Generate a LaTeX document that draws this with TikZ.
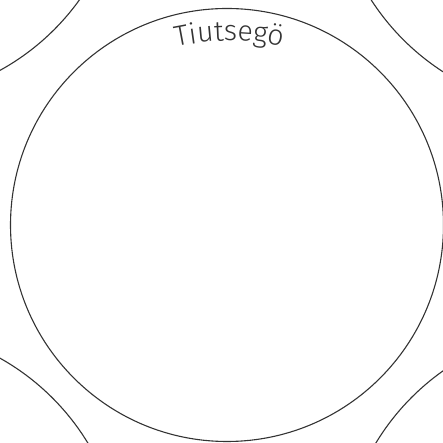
\documentclass[tikz,border=0pt]{standalone}
\usepackage{fontspec}
\setmainfont{Fira Sans Light}
\usetikzlibrary{decorations.text}
\definecolor{InkGray}{HTML}{333333}

\begin{document}
\begin{tikzpicture}[
    x=1pt, y=1pt,
    bubble/.style={draw=InkGray, line width=1.1pt},
    arclabel/.style={decorate, decoration={text along path, text align=center,
        text color=InkGray, text={|\fontsize{28.5}{32}\selectfont|Tiutsegö}}}
]
  \useasboundingbox (0,0) rectangle (443,443);
  % Main circle
  \coordinate (main) at (227,218);
  \draw[bubble] (main) circle[radius=216.5pt];
  % Neighbouring circles, cut by the border
  \coordinate (nw) at (-115.6,583);
  \coordinate (ne) at (573,573);
  \coordinate (sw) at (-117.3,-124.6);
  \coordinate (se) at (581.4,-124);
  \draw[bubble] (nw) circle[radius=240pt];
  \draw[bubble] (ne) circle[radius=240pt];
  \draw[bubble] (sw) circle[radius=240pt];
  \draw[bubble] (se) circle[radius=240pt];
  % Label on the arc
  \coordinate (labelc) at (229.5,152);
  \path[arclabel] (labelc) ++(115:250pt) arc[start angle=115, end angle=65, radius=250pt];
\end{tikzpicture}
\end{document}
